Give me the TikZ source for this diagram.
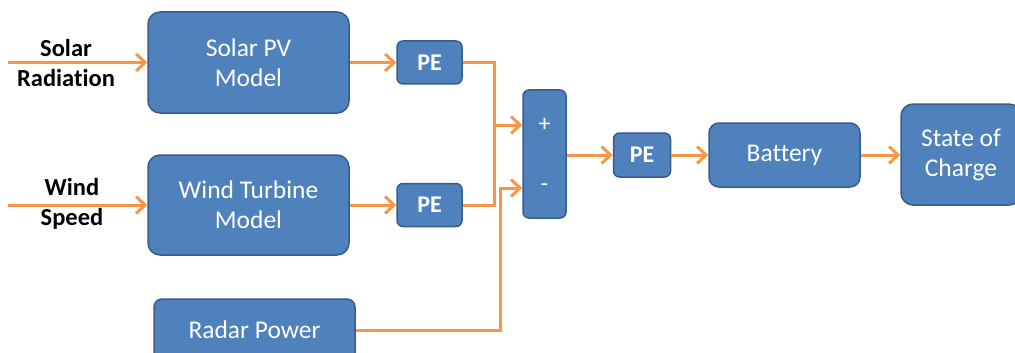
\documentclass[tikz,border=0pt]{standalone}
\usepackage{fontspec}
\setmainfont{Carlito}[Ligatures=NoCommon]
\usetikzlibrary{arrows.meta,positioning}

\definecolor{boxblue}{HTML}{4F81BD}
\definecolor{boxedge}{HTML}{385D8A}
\definecolor{wire}{HTML}{F79646}

\tikzset{
  block/.style={draw=boxedge, line width=1.5pt, fill=boxblue, rounded corners=12pt,
    text=white, align=center, inner sep=0pt, font=\fontsize{25.5}{30}\selectfont},
  pebox/.style={block, rounded corners=6pt, minimum width=65pt, minimum height=43pt,
    font=\bfseries\fontsize{24}{28}\selectfont},
  wireline/.style={draw=wire, line width=3pt},
  wirearrow/.style={wireline, -{Straight Barb[length=9pt,width=17pt,line width=3pt]}},
  inlabel/.style={font=\bfseries\fontsize{24.5}{30}\selectfont, align=center}
}

\begin{document}
\begin{tikzpicture}[x=1pt,y=-1pt]
  \useasboundingbox (0,0) rectangle (1015,353);

  % model blocks
  \node[block, minimum width=201pt, minimum height=101pt] (solarpv) at (248.5,62.5) {Solar PV\\Model};
  \node[block, minimum width=201pt, minimum height=100pt] (windtm) at (248.5,205) {Wind Turbine\\Model};
  \node[block, rounded corners=8pt, minimum width=201pt, minimum height=62pt] (radar) at (254.5,330) {Radar Power};

  % power electronics
  \node[pebox] (pesolar) at (429.5,62.5) {PE};
  \node[pebox] (pewind) at (429.5,205) {PE};
  \node[pebox, minimum width=57pt, minimum height=44pt] (pebatt) at (642,155) {PE};

  % summing block
  \node[block, rounded corners=6pt, minimum width=43pt, minimum height=128pt] (sum) at (544.5,154) {};
  \node[text=white, font=\fontsize{24}{26}\selectfont] (plus) at (544.5,125) {+};
  \node[text=white, font=\fontsize{24}{26}\selectfont] (minus) at (544.5,188) {-};

  \node[block, rounded corners=10pt, minimum width=151pt, minimum height=64pt] (battery) at (784.5,155) {Battery};
  \node[block, minimum width=120pt, minimum height=101pt] (soc) at (961,154.5) {State of\\Charge};

  % inputs
  \node[inlabel] (solarin) at (66,63) {Solar\\Radiation};
  \node[inlabel] (windin) at (72,204) {Wind\\Speed};
  \coordinate (solarstart) at (8,62.5);
  \coordinate (windstart) at (8,205);
  \draw[wirearrow] (solarstart) -- (solarpv.west);
  \draw[wirearrow] (windstart) -- (windtm.west);

  \draw[wirearrow] (solarpv.east) -- (pesolar.west);
  \draw[wirearrow] (windtm.east) -- (pewind.west);

  % bus to summing block
  \coordinate (bus) at (494,0);
  \coordinate (radarbend) at (500,0);
  \draw[wireline] (pesolar.east) -| (bus |- pewind.east) -- (pewind.east);
  \draw[wirearrow] (bus |- plus) -- (sum.west |- plus);
  \draw[wirearrow] (radar.east) -| (radarbend |- minus) -- (sum.west |- minus);

  \draw[wirearrow] (sum.east |- pebatt) -- (pebatt.west);
  \draw[wirearrow] (pebatt.east) -- (battery.west);
  \draw[wirearrow] (battery.east) -- (soc.west |- battery);
\end{tikzpicture}
\end{document}
